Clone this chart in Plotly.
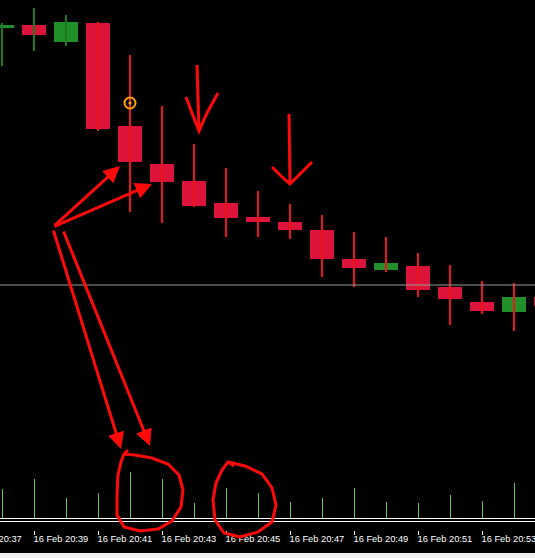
import plotly.graph_objects as go

# 1-minute bars, 16 Feb, 20:38 .. 20:55 (last bar only partly on screen)
times = ["20:38", "20:39", "20:40", "20:41", "20:42", "20:43", "20:44", "20:45", "20:46",
         "20:47", "20:48", "20:49", "20:50", "20:51", "20:52", "20:53", "20:54", "20:55"]
opens = [1.31472, 1.31475, 1.31458, 1.31477, 1.31374, 1.31336, 1.31319, 1.31297, 1.31283,
         1.31278, 1.31270, 1.31241, 1.31230, 1.31234, 1.31213, 1.31198, 1.31188, 1.31203]
highs = [1.31477, 1.31492, 1.31485, 1.31478, 1.31445, 1.31394, 1.31356, 1.31332, 1.31309,
         1.31296, 1.31285, 1.31268, 1.31263, 1.31247, 1.31235, 1.31219, 1.31217, 1.31210]
lows = [1.31434, 1.31449, 1.31454, 1.31369, 1.31288, 1.31277, 1.31293, 1.31263, 1.31263,
        1.31261, 1.31223, 1.31213, 1.31228, 1.31203, 1.31175, 1.31186, 1.31169, 1.31188]
closes = [1.31475, 1.31465, 1.31478, 1.31371, 1.31338, 1.31318, 1.31294, 1.31282, 1.31278,
          1.31270, 1.31241, 1.31232, 1.31237, 1.31210, 1.31201, 1.31189, 1.31203, 1.31194]
volumes = [58, 78, 40, 50, 92, 78, 30, 60, 50, 32, 40, 60, 32, 30, 46, 34, 70, 20]
bid = 1.31215
signal_price = 1.31397      # orange mark on the 20:42 bar
signal_bar = 4

tick_times = ["20:39", "20:41", "20:43", "20:45", "20:47", "20:49", "20:51", "20:53"]
first_label = "16 Feb 20:37"   # only its tail shows at the left edge

RED_BODY = "#dc143c"
GREEN_BODY = "#22902a"
RED_WICK = "#f01414"
GREEN_WICK = "#1c7a1c"
VOL = "#62c462"
PEN = "#ff0a0a"

W, PLOT_H = 535, 530
BAR_PX = 32          # pixels per 1-minute bar
X0 = -2 / BAR_PX     # first bar sits 2px in from the left edge

idx = list(range(len(times)))
bull = [c >= o for o, c in zip(opens, closes)]

fig = go.Figure()

# candle bodies
fig.add_trace(go.Bar(
    x=idx,
    y=[abs(c - o) for o, c in zip(opens, closes)],
    base=[min(o, c) for o, c in zip(opens, closes)],
    width=0.75,
    marker_color=[GREEN_BODY if b else RED_BODY for b in bull],
    marker_line_width=0,
))

# wicks (the first three bars are drawn with green shadows)
for color, pick in [(GREEN_WICK, lambda i: i < 3), (RED_WICK, lambda i: i >= 3)]:
    xs, ys = [], []
    for i in idx:
        if pick(i):
            xs += [i, i, None]
            ys += [lows[i], highs[i], None]
    fig.add_trace(go.Scatter(x=xs, y=ys, mode="lines",
                             line=dict(color=color, width=2), hoverinfo="skip"))

# volumes at the bottom (own x axis, nudged half a pixel so 1px lines stay sharp)
vx, vy = [], []
for i, v in zip(idx, volumes):
    vx += [i, i, None]
    vy += [0, v, None]
fig.add_trace(go.Scatter(x=vx, y=vy, mode="lines", xaxis="x2", yaxis="y2",
                         line=dict(color=VOL, width=1), hoverinfo="skip"))

# signal mark
fig.add_trace(go.Scatter(
    x=[signal_bar], y=[signal_price], mode="markers",
    marker=dict(symbol="circle-open-dot", size=11, color="#ffa500",
                line=dict(color="#ffa500", width=2)),
))


def pp(x, y):
    return x / W, 1 - y / PLOT_H


def path(points, closed=False):
    parts = []
    for k, (x, y) in enumerate(points):
        fx, fy = pp(x, y)
        parts.append(("M" if k == 0 else "L") + f"{fx:.5f},{fy:.5f}")
    return " ".join(parts) + (" Z" if closed else "")


shapes = [
    dict(type="line", xref="paper", x0=0, x1=1, yref="y", y0=bid, y1=bid,
         line=dict(color="#9a9a9a", width=1)),
    dict(type="line", xref="paper", x0=0, x1=1, yref="paper",
         y0=pp(0, 518.5)[1], y1=pp(0, 518.5)[1], line=dict(color="white", width=1)),
    dict(type="line", xref="paper", x0=0, x1=1, yref="paper",
         y0=pp(0, 521.5)[1], y1=pp(0, 521.5)[1], line=dict(color="white", width=1)),
    dict(type="rect", xref="paper", x0=0, x1=1, yref="paper",
         y0=pp(0, 553)[1], y1=pp(0, 560)[1], fillcolor="#f0f0f0", line_width=0),
]

# hand-drawn marks
strokes = [
    [(197, 65), (199, 131)],
    [(186, 97), (192, 113), (199, 131), (207, 113), (218, 93)],
    [(289, 114), (290, 183)],
    [(272, 167), (281, 176), (290, 184), (300, 174), (312, 162)],
    [(124, 454), (135, 455), (152, 458), (168, 464), (179, 475), (183, 490), (181, 507),
     (172, 521), (158, 529), (140, 531), (124, 527), (117, 515), (117, 495), (118, 475),
     (121, 462), (124, 454), (128, 450)],
    [(228, 462), (245, 466), (262, 474), (272, 488), (276, 505), (272, 522), (258, 532),
     (240, 537), (224, 533), (215, 520), (213, 500), (216, 483), (222, 470), (228, 462),
     (234, 466)],
]
for s in strokes:
    shapes.append(dict(type="path", xref="paper", yref="paper", path=path(s),
                       line=dict(color=PEN, width=3)))

annotations = []
for tail, tip in [((53, 227), (120, 166)), ((53, 227), (152, 184)),
                  ((53, 229), (121, 449)), ((63, 230), (150, 446))]:
    tx, ty = pp(*tip)
    annotations.append(dict(
        xref="paper", yref="paper", x=tx, y=ty, text="",
        showarrow=True, arrowhead=2, arrowsize=1.1, arrowwidth=3, arrowcolor=PEN,
        ax=tail[0] - tip[0], ay=tail[1] - tip[1],
    ))

label_font = dict(family="Liberation Sans", size=9.3, color="white")
annotations.append(dict(
    xref="paper", yref="paper", x=0, y=pp(0, 539)[1], xanchor="right", yanchor="middle",
    xshift=24, text=first_label, showarrow=False, font=label_font,
))

fig.update_layout(
    width=W, height=558,
    margin=dict(l=0, r=0, t=0, b=558 - PLOT_H, pad=0, autoexpand=False),
    paper_bgcolor="black",
    plot_bgcolor="black",
    showlegend=False,
    barmode="overlay",
    hovermode=False,
    shapes=shapes,
    annotations=annotations,
    xaxis=dict(
        range=[X0, X0 + W / BAR_PX],
        tickvals=[times.index(t) for t in tick_times],
        ticktext=[f"16 Feb {t}" for t in tick_times],
        ticks="outside", ticklen=4, tickcolor="white", tickwidth=1,
        ticklabelposition="outside right", tickangle=0, automargin=False,
        ticklabeloverflow="allow", ticklabelshift=-1,
        tickfont=label_font,
        showgrid=False, zeroline=False, showline=False,
    ),
    xaxis2=dict(range=[X0 - 0.5 / BAR_PX, X0 - 0.5 / BAR_PX + W / BAR_PX],
                overlaying="x", visible=False),
    yaxis=dict(range=[1.30970, 1.31500], visible=False, showgrid=False, automargin=False),
    yaxis2=dict(range=[-24, 1036], overlaying="y", visible=False, showgrid=False,
                automargin=False),
)

# the page's default body margin would push the chart 8px in from the corner
fig.write_html("out.html", config={"displayModeBar": False},
               post_script="document.body.style.margin='0';")
